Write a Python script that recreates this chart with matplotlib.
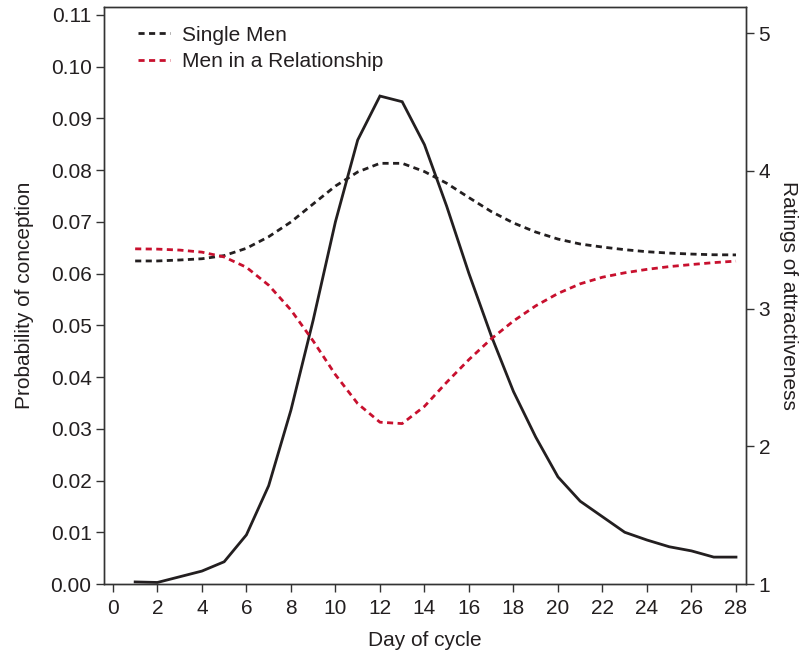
import matplotlib
matplotlib.use('Agg')
import matplotlib.pyplot as plt

plt.rcParams['font.family'] = ['Liberation Sans', 'DejaVu Sans']

DAYS = list(range(1, 29))
CONCEPTION = [0.0004, 0.0003, 0.0014, 0.0025, 0.0043, 0.0095, 0.019, 0.0336,
              0.051, 0.070, 0.0858, 0.0943, 0.0932, 0.0849, 0.073, 0.060,
              0.048, 0.0372, 0.0284, 0.0207, 0.016, 0.013, 0.010, 0.0085,
              0.0072, 0.0064, 0.0052, 0.0052]
SINGLE = [3.346, 3.346, 3.353, 3.362, 3.385, 3.438, 3.522, 3.629, 3.760,
          3.890, 3.992, 4.055, 4.055, 3.995, 3.910, 3.806, 3.705, 3.622,
          3.556, 3.505, 3.469, 3.447, 3.428, 3.413, 3.403, 3.396, 3.391, 3.390]
RELATION = [3.434, 3.432, 3.425, 3.410, 3.375, 3.300, 3.170, 2.990, 2.765,
            2.520, 2.310, 2.175, 2.165, 2.290, 2.465, 2.630, 2.780, 2.910,
            3.020, 3.110, 3.180, 3.228, 3.260, 3.285, 3.305, 3.320, 3.334, 3.345]
X_TICKS = list(range(0, 29, 2))
LEFT_TICKS = [i / 100 for i in range(0, 12)]
RIGHT_TICKS = [1, 2, 3, 4, 5]

RED = '#c8102e'
TXT = '#231f20'
FS = 15

fig = plt.figure(figsize=(8, 6.51), dpi=100)
ax = fig.add_axes([0.13, 0.1029, 0.8025, 0.8863])
ax2 = ax.twinx()

ax.plot(DAYS, CONCEPTION, color=TXT, lw=2.0, solid_joinstyle='miter')
l1, = ax2.plot(DAYS, SINGLE, color=TXT, lw=2.0, dashes=(2.2, 1.6), label='Single Men')
l2, = ax2.plot(DAYS, RELATION, color=RED, lw=2.0, dashes=(2.2, 1.6), label='Men in a Relationship')

ax.set_xlim(-0.4, 28.45)
ax.set_ylim(0, 0.1115)
ax2.set_ylim(1, 5.19)
ax.set_xticks(X_TICKS)
ax.set_yticks(LEFT_TICKS)
ax.set_yticklabels(['%.2f' % v for v in LEFT_TICKS])
ax2.set_yticks(RIGHT_TICKS)

for a in (ax, ax2):
    a.tick_params(direction='out', length=6, width=1, colors='#333333',
                  labelcolor=TXT, labelsize=FS, pad=3)
    for s in a.spines.values():
        s.set_color('#333333')
        s.set_linewidth(1)
ax.tick_params(axis='x', pad=5)

ax.set_xlabel('Day of cycle', fontsize=FS, color=TXT, labelpad=9)
ax.set_ylabel('Probability of conception', fontsize=FS, color=TXT, labelpad=12)
ax2.set_ylabel('Ratings of attractiveness', fontsize=FS, color=TXT,
               rotation=270, labelpad=20)

leg = ax.legend(handles=[l1, l2], loc='upper left', frameon=False, fontsize=FS,
                handlelength=1.55, handletextpad=0.55, labelspacing=0.35,
                bbox_to_anchor=(0.024, 1.0))
for t in leg.get_texts():
    t.set_color(TXT)

fig.savefig('out.png', dpi=100)
